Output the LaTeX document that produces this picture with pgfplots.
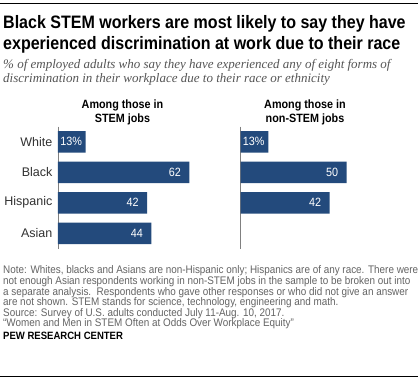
\documentclass[border=0pt]{standalone}
\usepackage{pgfplots}
\pgfplotsset{compat=1.18}
\usepackage{fontspec}
\setmainfont{Liberation Sans}
\newfontfamily\titlefont[FakeStretch=0.89]{Liberation Sans}
\newfontfamily\subfont{Liberation Serif}
\newfontfamily\bodyfont[FakeStretch=0.9]{Liberation Sans}
\definecolor{barblue}{RGB}{35,74,124}
\definecolor{notegray}{RGB}{100,100,100}
\definecolor{subgray}{RGB}{85,85,85}
\definecolor{labgray}{RGB}{50,50,50}
\begin{document}
\begin{tikzpicture}
\path[use as bounding box, fill=white] (0,0) rectangle (420bp,-379bp);
\draw[line width=1bp] (0,-3bp) -- (418bp,-3bp);
\draw[line width=1bp] (0,-376.7bp) -- (418bp,-376.7bp);
% title
\node[anchor=base west, inner sep=0] at (3bp,-28bp) {\titlefont\bfseries\fontsize{18bp}{20bp}\selectfont Black STEM workers are most likely to say they have};
\node[anchor=base west, inner sep=0] at (3bp,-49bp) {\titlefont\bfseries\fontsize{18bp}{20bp}\selectfont experienced discrimination at work due to their race};
% subtitle
\node[anchor=base west, inner sep=0, text=subgray] at (3bp,-68bp) {\subfont\itshape\fontsize{13bp}{15bp}\selectfont \% of employed adults who say they have experienced any of eight forms of};
\node[anchor=base west, inner sep=0, text=subgray] at (3bp,-82bp) {\subfont\itshape\fontsize{13bp}{15bp}\selectfont discrimination in their workplace due to their race or ethnicity};
% panel headers
\node[anchor=base, inner sep=0] at (122.5bp,-108bp) {\bodyfont\bfseries\fontsize{12bp}{14bp}\selectfont Among those in};
\node[anchor=base, inner sep=0] at (122.5bp,-122bp) {\bodyfont\bfseries\fontsize{12bp}{14bp}\selectfont STEM jobs};
\node[anchor=base, inner sep=0] at (305bp,-108bp) {\bodyfont\bfseries\fontsize{12bp}{14bp}\selectfont Among those in};
\node[anchor=base, inner sep=0] at (305bp,-122bp) {\bodyfont\bfseries\fontsize{12bp}{14bp}\selectfont non-STEM jobs};
\pgfplotsset{
  panel/.style={
    anchor=south west, scale only axis, width=148.4bp, height=122bp,
    xmin=0, xmax=70, ymin=-0.5, ymax=3.5, y dir=reverse,
    xbar, bar width=21.5bp,
    axis x line=none, axis y line=left,
    axis line style={draw=gray, line width=0.8bp, -},
    ytick={0,1,2,3}, ytick style={draw=none},
    yticklabel style={font=\fontsize{12.5bp}{14bp}\selectfont, text=labgray},
    point meta=explicit symbolic,
    nodes near coords,
    nodes near coords align={anchor=center},
    every node near coord/.append style={text=white, font=\bodyfont\fontsize{12bp}{14bp}\selectfont, inner sep=1bp, xshift=-14.5bp},
    clip=false,
  }
}
\begin{axis}[panel, at={(58bp,-248.5bp)}, yticklabels={White,Black,Hispanic,Asian}]
\addplot[fill=barblue, draw=none] coordinates {(13,0) [13\%] (62,1) [62] (42,2) [42] (44,3) [44]};
\end{axis}
\begin{axis}[panel, at={(240.7bp,-248.5bp)}, yticklabels={}]
\addplot[fill=barblue, draw=none] coordinates {(13,0) [13\%] (50,1) [50] (42,2) [42]};
\end{axis}
% notes
\begin{scope}[every node/.style={anchor=base west, inner sep=0, text=notegray, font=\bodyfont\fontsize{11bp}{12bp}\selectfont}]
\node at (3bp,-273bp) {Note: Whites, blacks and Asians are non-Hispanic only; Hispanics are of any race. There were};
\node at (3bp,-284bp) {not enough Asian respondents working in non-STEM jobs in the sample to be broken out into};
\node at (3bp,-295bp) {a separate analysis.\ \ Respondents who gave other responses or who did not give an answer};
\node at (3bp,-305.5bp) {are not shown. STEM stands for science, technology, engineering and math.};
\node at (3bp,-316bp) {Source: Survey of U.S. adults conducted July 11-Aug. 10, 2017.};
\node at (3bp,-326.5bp) {“Women and Men in STEM Often at Odds Over Workplace Equity”};
\end{scope}
\node[anchor=base west, inner sep=0] at (3bp,-339.5bp) {\bodyfont\bfseries\fontsize{10.6bp}{12bp}\selectfont PEW RESEARCH CENTER};
\end{tikzpicture}
\end{document}
